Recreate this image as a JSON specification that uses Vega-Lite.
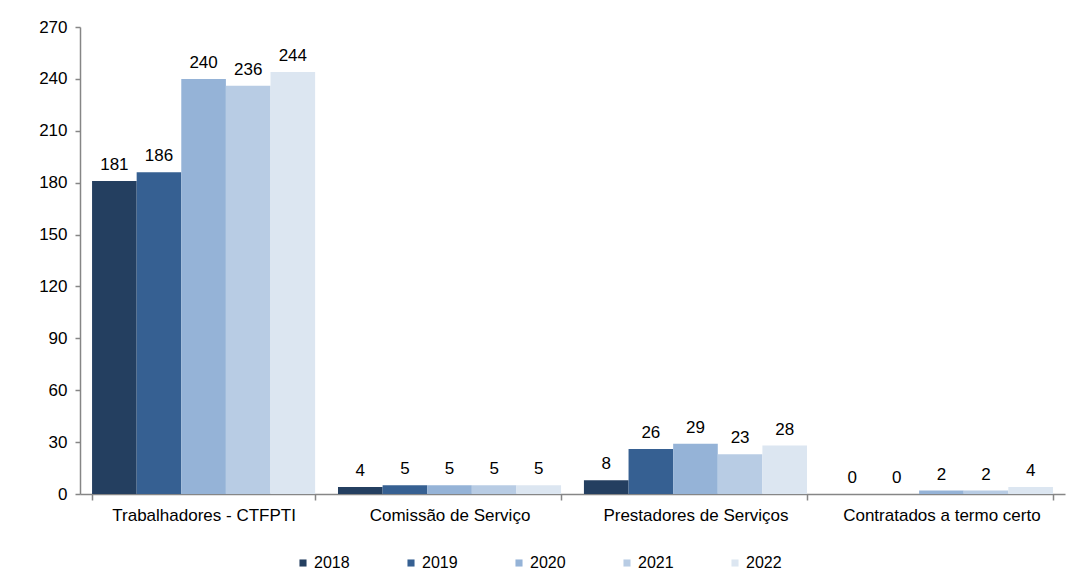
{
  "$schema": "https://vega.github.io/schema/vega-lite/v6.json",
  "width": 985,
  "height": 467,
  "autosize": {"type": "none"},
  "padding": {"left": 80, "top": 27, "right": 14, "bottom": 87},
  "background": "white",
  "config": {
    "font": "Liberation Sans",
    "view": {"stroke": null}
  },
  "data": {
    "values": [
      {"cat": "Trabalhadores - CTFPTI", "ano": "2018", "v": 181},
      {"cat": "Trabalhadores - CTFPTI", "ano": "2019", "v": 186},
      {"cat": "Trabalhadores - CTFPTI", "ano": "2020", "v": 240},
      {"cat": "Trabalhadores - CTFPTI", "ano": "2021", "v": 236},
      {"cat": "Trabalhadores - CTFPTI", "ano": "2022", "v": 244},
      {"cat": "Comissão de Serviço", "ano": "2018", "v": 4},
      {"cat": "Comissão de Serviço", "ano": "2019", "v": 5},
      {"cat": "Comissão de Serviço", "ano": "2020", "v": 5},
      {"cat": "Comissão de Serviço", "ano": "2021", "v": 5},
      {"cat": "Comissão de Serviço", "ano": "2022", "v": 5},
      {"cat": "Prestadores de Serviços", "ano": "2018", "v": 8},
      {"cat": "Prestadores de Serviços", "ano": "2019", "v": 26},
      {"cat": "Prestadores de Serviços", "ano": "2020", "v": 29},
      {"cat": "Prestadores de Serviços", "ano": "2021", "v": 23},
      {"cat": "Prestadores de Serviços", "ano": "2022", "v": 28},
      {"cat": "Contratados a termo certo", "ano": "2018", "v": 0},
      {"cat": "Contratados a termo certo", "ano": "2019", "v": 0},
      {"cat": "Contratados a termo certo", "ano": "2020", "v": 2},
      {"cat": "Contratados a termo certo", "ano": "2021", "v": 2},
      {"cat": "Contratados a termo certo", "ano": "2022", "v": 4}
    ]
  },
  "encoding": {
    "x": {
      "field": "cat",
      "type": "nominal",
      "sort": null,
      "scale": {"paddingInner": 0.093, "paddingOuter": 0.049},
      "axis": {
        "title": null,
        "labelAngle": 0,
        "labelFontSize": 17,
        "labelLimit": 400,
        "labelColor": "#000000",
        "labelPadding": 7,
        "tickBand": "extent",
        "tickSize": 6,
        "tickColor": "#868686",
        "domainColor": "#868686",
        "domainWidth": 1.5,
        "tickWidth": 1.5
      }
    },
    "xOffset": {
      "field": "ano",
      "type": "nominal",
      "scale": {"paddingInner": 0, "paddingOuter": 0}
    },
    "y": {
      "field": "v",
      "type": "quantitative",
      "scale": {"domain": [0, 270], "nice": false},
      "axis": {
        "title": null,
        "values": [0, 30, 60, 90, 120, 150, 180, 210, 240, 270],
        "grid": false,
        "labelFontSize": 17,
        "labelColor": "#000000",
        "labelPadding": 8,
        "tickSize": 5,
        "tickColor": "#868686",
        "domainColor": "#868686",
        "domainWidth": 1.5,
        "tickWidth": 1.5
      }
    }
  },
  "layer": [
    {
      "mark": {"type": "bar"},
      "encoding": {
        "color": {
          "field": "ano",
          "type": "nominal",
          "scale": {
            "domain": ["2018", "2019", "2020", "2021", "2022"],
            "range": ["#243F60", "#366092", "#95B3D7", "#B8CCE4", "#DCE6F1"]
          },
          "legend": {
            "title": null,
            "orient": "none",
            "direction": "horizontal",
            "columns": 5,
            "legendX": 215,
            "legendY": 528,
            "symbolType": "square",
            "symbolSize": 50,
            "symbolStrokeWidth": 0,
            "symbolOpacity": 1,
            "labelFontSize": 16,
            "labelColor": "#000000",
            "labelOffset": 3,
            "columnPadding": 53
          }
        }
      }
    },
    {
      "mark": {"type": "text", "baseline": "bottom", "dy": -7, "fontSize": 17, "color": "#000000"},
      "encoding": {"text": {"field": "v", "type": "quantitative"}}
    }
  ]
}
